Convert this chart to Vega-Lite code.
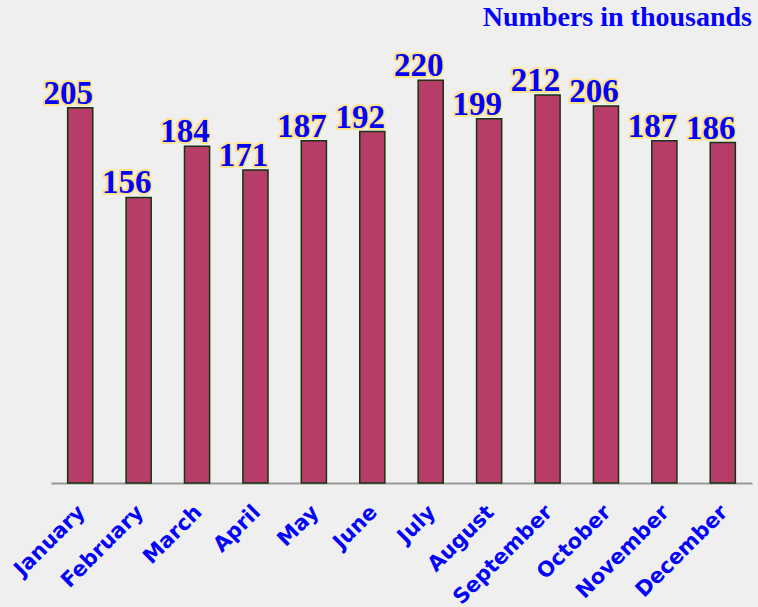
{
  "$schema": "https://vega.github.io/schema/vega-lite/v6.json",
  "autosize": {"type": "none"},
  "padding": {"left": 51, "top": 40, "right": 6, "bottom": 124},
  "width": 701,
  "height": 443,
  "background": "#f0efef",
  "config": {"view": {"stroke": null}},
  "title": {
    "text": "Numbers in thousands",
    "anchor": "end",
    "frame": "group",
    "orient": "top",
    "baseline": "alphabetic",
    "offset": -14,
    "font": "Liberation Serif",
    "fontSize": 28,
    "fontWeight": "bold",
    "color": "#0000FF"
  },
  "data": {
    "values": [
      {"month": "January", "value": 205},
      {"month": "February", "value": 156},
      {"month": "March", "value": 184},
      {"month": "April", "value": 171},
      {"month": "May", "value": 187},
      {"month": "June", "value": 192},
      {"month": "July", "value": 220},
      {"month": "August", "value": 199},
      {"month": "September", "value": 212},
      {"month": "October", "value": 206},
      {"month": "November", "value": 187},
      {"month": "December", "value": 186}
    ]
  },
  "encoding": {
    "x": {
      "field": "month",
      "type": "nominal",
      "sort": null,
      "scale": {"paddingInner": 0.57, "paddingOuter": 0.285},
      "axis": {
        "title": null,
        "labelAngle": -45,
        "labelFont": "DejaVu Sans",
        "labelFontSize": 21,
        "labelFontWeight": 600,
        "labelColor": "#0000FF",
        "labelPadding": 18,
        "labelOffset": -6,
        "ticks": false,
        "domainColor": "#999999",
        "domainWidth": 2
      }
    },
    "y": {
      "field": "value",
      "type": "quantitative",
      "scale": {"domain": [0, 242], "nice": false},
      "axis": null
    }
  },
  "layer": [
    {
      "mark": {"type": "bar", "fill": "#B83C68", "stroke": "#163510", "strokeWidth": 1.5}
    },
    {
      "mark": {
        "type": "text",
        "font": "Liberation Serif",
        "fontSize": 33,
        "fontWeight": "bold",
        "fill": "#FFE38A",
        "stroke": "#FFE38A",
        "strokeWidth": 4,
        "strokeJoin": "round",
        "baseline": "alphabetic",
        "dx": -12,
        "dy": -4
      },
      "encoding": {"text": {"field": "value", "type": "quantitative"}}
    },
    {
      "mark": {
        "type": "text",
        "font": "Liberation Serif",
        "fontSize": 33,
        "fontWeight": "bold",
        "fill": "#0000FF",
        "baseline": "alphabetic",
        "dx": -12,
        "dy": -4
      },
      "encoding": {"text": {"field": "value", "type": "quantitative"}}
    }
  ]
}
